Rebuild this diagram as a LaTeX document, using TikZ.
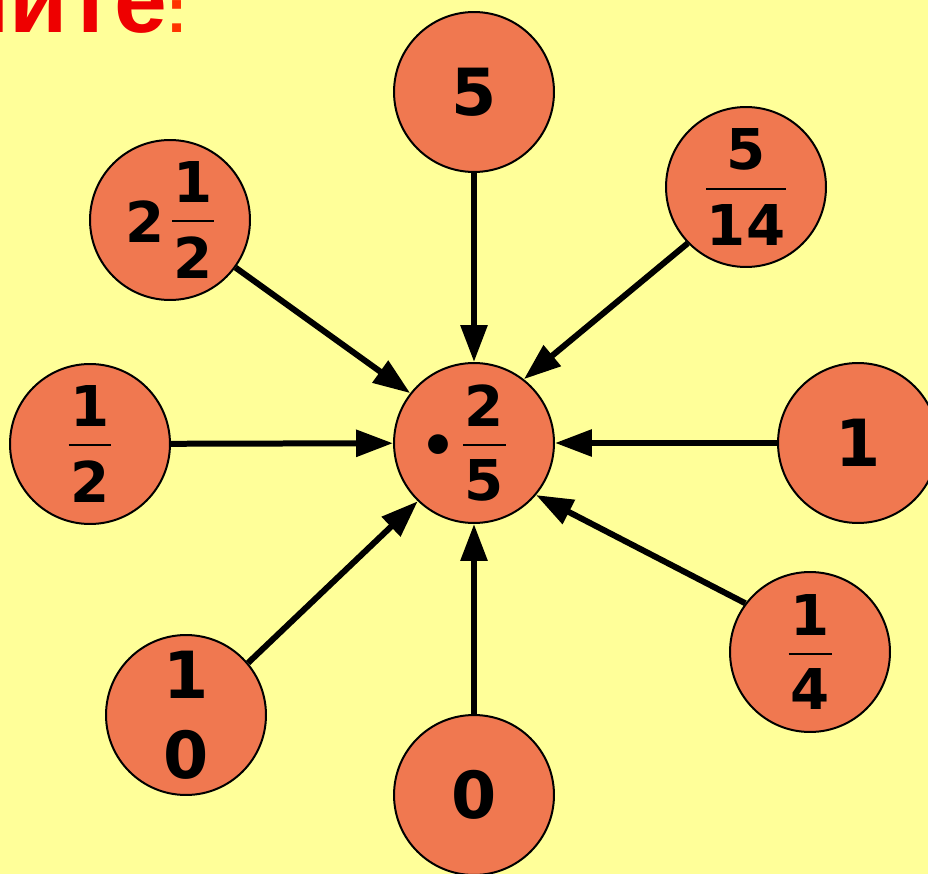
\documentclass[tikz,border=0pt]{standalone}
\usepackage{fontspec}
\usepackage{tikz}
\usetikzlibrary{arrows.meta}
\newfontfamily\numfont{DejaVu Sans}
\newfontfamily\titlefont{Liberation Sans}
\definecolor{bg}{RGB}{255,255,153}
\definecolor{ball}{RGB}{240,120,80}
\definecolor{titlered}{RGB}{238,0,0}
\definecolor{colonred}{RGB}{255,51,0}
\newcommand{\frc}[3][0.86cm]{\vbox{\offinterlineskip\hbox to #1{\hss#2\hss}\kern10pt\hrule height 1.2pt\kern8pt\hbox to #1{\hss#3\hss}}}
\newcommand{\stk}[2]{\vbox{\offinterlineskip\hbox{#1}\kern18pt\hbox{#2}}}

\begin{document}
\begin{tikzpicture}
	[x=0.02cm,y=-0.02cm,every node/.style={circle,draw,line width=0.04cm,fill=ball,minimum size=3.2cm,inner sep=0pt,font=\numfont\bfseries\fontsize{37}{40}\selectfont},
	fracnode/.style={font=\numfont\bfseries\fontsize{32}{36}\selectfont},
	edge/.style={->,>={Triangle[length=0.74cm,width=0.52cm]},line width=0.12cm}]
	\clip (0,0) rectangle (928,874);
	\fill[bg] (0,0) rectangle (928,874);
	\node[rectangle,draw=none,fill=none,minimum size=0pt,anchor=base east,text=titlered,font=\titlefont\bfseries\fontsize{54}{60}\selectfont] (title) at (189,33) {Вычислите\textcolor{colonred}{\fontsize{36}{40}\selectfont:}};

	\node (n0) at (474,443) [fracnode] {\raisebox{20pt}{•}\kern0.14cm\frc{2}{5}\kern0.44cm};
	\node (n1) at (474,92)  {5};
	\node (n2) at (746,187) [fracnode] {\frc[1.6cm]{5}{14}};
	\node (n3) at (858,443) {1};
	\node (n4) at (810,652) [fracnode] {\frc{1}{4}};
	\node (n5) at (474,795) {0};
	\node (n6) at (186,715) {\stk{1}{0}};
	\node (n7) at (90,444)  [fracnode] {\frc{1}{2}};
	\node (n8) at (170,220) [fracnode] {\raisebox{20.2pt}{2}\kern0.14cm\frc[0.84cm]{1}{2}};

	\draw[edge] (n1) to (n0);
	\draw[edge] (n2.224) to (n0.52);
	\draw[edge] (n3) to (n0);
	\draw[edge] (n4.143) to (n0.-40);
	\draw[edge] (n5) to (n0);
	\draw[edge] (n6.40) to (n0.226);
	\draw[edge] (n7) to (n0);
	\draw[edge] (n8.-36) to (n0.142);
\end{tikzpicture}
\end{document}
